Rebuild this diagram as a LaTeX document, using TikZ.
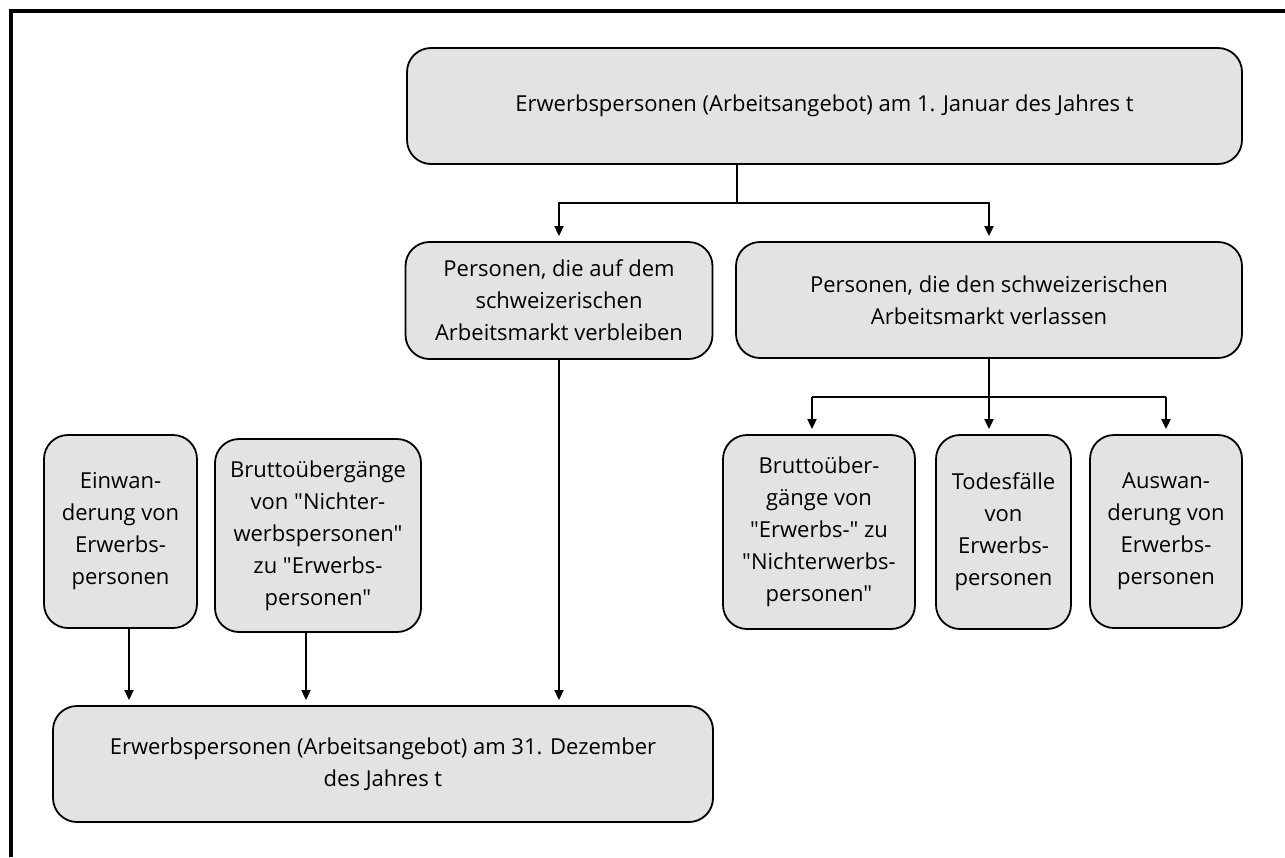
\documentclass[tikz,border=0pt]{standalone}
\usepackage{fontspec}
\setmainfont{Open Sans}[Ligatures=TeXOff]
\usetikzlibrary{arrows.meta}
\definecolor{boxgray}{HTML}{E3E3E3}
\tikzset{
  box/.style={draw=black, line width=1.8pt, fill=boxgray, rounded corners=24pt,
    align=center, inner sep=0pt, font=\fontsize{22}{32}\selectfont},
  conn/.style={draw=black, line width=1.8pt},
  arr/.style={conn, -{Triangle[length=10pt,width=9pt]}, shorten >=5pt},
}
\begin{document}
\begin{tikzpicture}[x=1pt,y=-1pt]
\useasboundingbox (0,0) rectangle (1285,857);
\draw[line width=3.3pt] (11,857) -- (11,11) -- (1285,11);

\node[box, minimum width=835pt, minimum height=116pt] (top) at (824.5,106)
  {Erwerbspersonen (Arbeitsangebot) am 1. Januar des Jahres t};
\node[box, minimum width=307pt, minimum height=117pt] (ml) at (559,300.5)
  {Personen, die auf dem\\schweizerischen\\Arbeitsmarkt verbleiben};
\node[box, minimum width=506pt, minimum height=116pt] (mr) at (989,300)
  {Personen, die den schweizerischen\\Arbeitsmarkt verlassen};
\node[box, minimum width=192pt, minimum height=194pt] (r1) at (819,532)
  {Bruttoüber-\\gänge von\\"Erwerbs-" zu\\"Nichterwerbs-\\personen"};
\node[box, minimum width=135pt, minimum height=194pt] (r2) at (1003.5,532)
  {Todesfälle\\von\\Erwerbs-\\personen};
\node[box, minimum width=152pt, minimum height=193pt] (r3) at (1166,531.5)
  {Auswan-\\derung von\\Erwerbs-\\personen};
\node[box, minimum width=153pt, minimum height=193pt] (l1) at (120.5,531.5)
  {Einwan-\\derung von\\Erwerbs-\\personen};
\node[box, minimum width=206pt, minimum height=193pt] (l2) at (318,535.5)
  {Bruttoübergänge\\von "Nichter-\\werbspersonen"\\zu "Erwerbs-\\personen"};
\node[box, minimum width=660pt, minimum height=116pt] (bot) at (383,764)
  {Erwerbspersonen (Arbeitsangebot) am 31. Dezember\\des Jahres t};

% top split
\coordinate (j1) at (737,203);
\draw[conn] (top.south -| j1) -- (j1);
\draw[arr] (j1) -| (ml.north);
\draw[arr] (j1) -| (mr.north);

% right split
\coordinate (a1) at (812,397);
\coordinate (a3) at (1166,397);
\draw[conn] (mr.south) -- (mr.south |- a1);
\draw[conn] (a1) -- (a3);
\draw[arr] (mr.south |- a1) -- (mr.south |- r2.north);
\draw[arr] (a1) -- (a1 |- r1.north);
\draw[arr] (a3) -- (a3 |- r3.north);

% into bottom
\coordinate (b1) at (129,0);
\coordinate (b2) at (306,0);
\draw[arr] (l1.south -| b1) -- (b1 |- bot.north);
\draw[arr] (l2.south -| b2) -- (b2 |- bot.north);
\draw[arr] (ml.south) -- (ml.south |- bot.north);
\end{tikzpicture}
\end{document}
